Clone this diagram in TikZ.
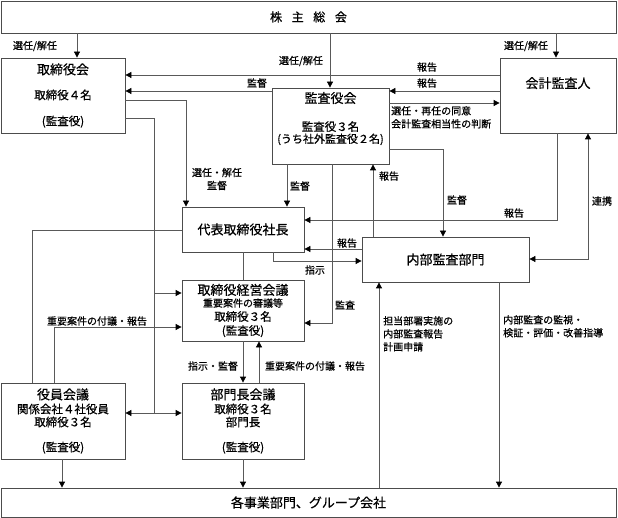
\documentclass[tikz,border=0pt]{standalone}
\usepackage{fontspec}
\setmainfont{Noto Sans CJK JP}[FakeBold=0.6]
\usepackage{tikz}
\usetikzlibrary{arrows.meta,positioning}

\begin{document}
\begin{tikzpicture}[x=1pt,y=-1pt,
    box/.style={draw=black!70, line width=0.8pt, align=center, inner sep=0pt,
      font=\fontsize{11.5}{13}\selectfont},
    ttl/.style={font=\fontsize{13}{15}\selectfont},
    lbl/.style={font=\fontsize{10}{13}\selectfont, inner sep=0pt},
    line/.style={draw=black!65, line width=0.8pt},
    arr/.style={line, -{Triangle[length=6pt,width=6pt,color=black]}},
    both/.style={line, {Triangle[length=6pt,width=6pt,color=black]}-{Triangle[length=6pt,width=6pt,color=black]}}]
  \useasboundingbox (0,0) rectangle (618,518);

  \node[box, minimum width=615pt, minimum height=32pt] (kabunushi) at (308.5,17)
    {\fontsize{12}{14}\selectfont 株\hspace{0.8em}主\hspace{0.8em}総\hspace{0.8em}会};
  \node[box, minimum width=124pt, minimum height=75pt] (torishimari) at (63,95.5)
    {{\fontsize{13}{15}\selectfont 取締役会}\\[12pt] 取締役４名\\[13pt] (監査役)};
  \node[box, minimum width=117pt, minimum height=76pt] (kansayaku) at (330.5,126)
    {{\fontsize{13}{15}\selectfont 監査役会}\\[15pt] 監査役３名\\[-1pt] {\fontsize{11}{13}\selectfont (うち社外監査役２名)}\\[4pt]};
  \node[box, minimum width=116pt, minimum height=75pt,
    label={[ttl, anchor=north, yshift=-16pt]north:会計監査人}] (kaikei) at (558,95.5) {};
  \node[box, minimum width=122pt, minimum height=45pt] (shacho) at (243,229.5)
    {\fontsize{13}{15}\selectfont 代表取締役社長};
  \node[box, minimum width=167pt, minimum height=45pt] (naibu) at (445.5,259.5)
    {\fontsize{13}{15}\selectfont 内部監査部門};
  \node[box, minimum width=122pt, minimum height=61pt] (keiei) at (243,310.5)
    {{\fontsize{13}{15}\selectfont 取締役経営会議}\\[-1pt] {\fontsize{10}{12}\selectfont 重要案件の審議等}\\[1pt] 取締役３名\\[1pt] (監査役)};
  \node[box, minimum width=124pt, minimum height=76pt] (yakuin) at (63,421)
    {{\fontsize{13}{15}\selectfont 役員会議}\\[1pt] 関係会社４社役員\\ 取締役３名\\[12pt] (監査役)};
  \node[box, minimum width=122pt, minimum height=76pt] (buchou) at (243,421)
    {{\fontsize{13}{15}\selectfont 部門長会議}\\[1pt] 取締役３名\\ 部門長\\[12pt] (監査役)};
  \node[box, minimum width=615pt, minimum height=29pt] (jigyo) at (308.5,502.5)
    {\fontsize{13}{15}\selectfont 各事業部門、グループ会社};

  \draw[arr] (77,0 |- kabunushi.south) -- (77,0 |- torishimari.north);
  \draw[arr] (330,0 |- kabunushi.south) -- (330,0 |- kansayaku.north);
  \draw[arr] (556,0 |- kabunushi.south) -- (556,0 |- kaikei.north);
  \node[lbl] (l1) at (35,46) {選任/解任};
  \node[lbl] (l2) at (301,61) {選任/解任};
  \node[lbl] (l3) at (526,46) {選任/解任};

  \draw[arr] (kaikei.west |- 0,75) -- (torishimari.east |- 0,75);
  \node[lbl] (l4) at (427,67) {報告};
  \draw[arr] (kaikei.west |- 0,91) -- (kansayaku.east |- 0,91);
  \node[lbl] (l5) at (427,83) {報告};
  \draw[arr] (kansayaku.west |- 0,91) -- (torishimari.east |- 0,91);
  \node[lbl] (l6) at (257,83) {監督};
  \draw[arr] (kansayaku.east |- 0,103) -- (kaikei.west |- 0,103);
  \node[lbl, align=left, anchor=north west] (l7) at (391,106) {選任・再任の同意\\会計監査相当性の判断};

  \draw[arr] (torishimari.east |- 0,100) -| (186,0 |- shacho.north);
  \node[lbl, align=center] (l8) at (217,179) {選任・解任\\監督};
  \coordinate (hub) at (154,413);
  \draw[line] (torishimari.east |- 0,118) -| (hub);
  \draw[arr] (154,293) -- (keiei.west |- 0,293);
  \draw[arr] (hub) -- (yakuin.east |- hub);
  \draw[arr] (hub) -- (buchou.west |- hub);

  \draw[arr] (287,0 |- kansayaku.south) -- (287,0 |- shacho.north);
  \node[lbl] (l9) at (300,186) {監督};
  \draw[arr] (332,0 |- kansayaku.south) |- (keiei.east |- 0,323);
  \node[lbl] (l10) at (345,305) {監査};
  \draw[arr] (373,0 |- naibu.north) -- (373,0 |- kansayaku.south);
  \node[lbl] (l11) at (389,176) {報告};
  \draw[arr] (kansayaku.east |- 0,149) -| (443,0 |- naibu.north);
  \node[lbl] (l12) at (457,200) {監督};

  \draw[arr] (557,0 |- kaikei.south) |- (shacho.east |- 0,220);
  \node[lbl] (l13) at (514,213) {報告};
  \draw[both] (naibu.east |- 0,259) -| (588,0 |- kaikei.south);
  \node[lbl] (l14) at (602,201) {連携};

  \draw[arr] (naibu.west |- 0,249) -- (shacho.east |- 0,249);
  \node[lbl] (l15) at (347,243) {報告};
  \draw[arr] (273,0 |- shacho.south) |- (naibu.west |- 0,261);
  \node[lbl] (l16) at (315,270) {指示};

  \draw[line] (shacho.south) -- (keiei.north);
  \draw[line] (shacho.west |- 0,230) -| (32,0 |- yakuin.north);
  \draw[arr] (54,0 |- yakuin.north) |- (keiei.west |- 0,327);
  \node[lbl] (l17) at (97,321) {重要案件の付議・報告};

  \draw[arr] (keiei.south) -- (buchou.north);
  \node[lbl] (l18) at (213,366) {指示・監督};
  \draw[arr] (259,0 |- buchou.north) -- (259,0 |- keiei.south);
  \node[lbl] (l19) at (315,366) {重要案件の付議・報告};

  \draw[arr] (62,0 |- yakuin.south) -- (62,0 |- jigyo.north);
  \draw[arr] (buchou.south) -- (buchou.south |- jigyo.north);

  \draw[arr] (379,0 |- jigyo.north) -- (379,0 |- naibu.south);
  \node[lbl, align=left, anchor=north west] (l20) at (383,316) {担当部署実施の\\内部監査報告\\計画申請};
  \draw[arr] (499,0 |- naibu.south) -- (499,0 |- jigyo.north);
  \node[lbl, align=left, anchor=north west] (l21) at (503,315) {内部監査の監視・\\検証・評価・改善指導};
\end{tikzpicture}
\end{document}
